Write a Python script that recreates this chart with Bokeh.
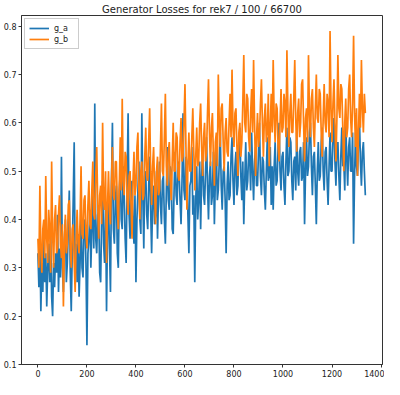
from bokeh.plotting import figure
from bokeh.models import Range1d, FixedTicker, Legend, LegendItem
from bokeh.embed import file_html
from bokeh.resources import INLINE

title_text = "Generator Losses for rek7 / 100 / 66700"
series_names = ["g_a", "g_b"]
step = 4

g_a = [
    0.33, 0.26, 0.36, 0.21, 0.31, 0.25, 0.36, 0.27, 0.33, 0.22, 0.30, 0.35, 0.27, 0.38, 0.24, 0.20, 0.31, 0.26, 0.33, 0.29, 0.41, 0.25, 0.34, 0.28,
    0.53, 0.30, 0.25, 0.36, 0.40, 0.27, 0.31, 0.38, 0.46, 0.29, 0.21, 0.33, 0.44, 0.56, 0.29, 0.35, 0.27, 0.37, 0.24, 0.31, 0.42, 0.30, 0.28, 0.39,
    0.40, 0.31, 0.14, 0.33, 0.36, 0.42, 0.30, 0.38, 0.45, 0.34, 0.64, 0.36, 0.33, 0.41, 0.42, 0.29, 0.27, 0.40, 0.48, 0.35, 0.31, 0.43, 0.21, 0.38,
    0.44, 0.34, 0.25, 0.47, 0.60, 0.38, 0.35, 0.44, 0.47, 0.33, 0.30, 0.46, 0.50, 0.40, 0.38, 0.51, 0.45, 0.36, 0.31, 0.48, 0.62, 0.41, 0.36, 0.47,
    0.48, 0.39, 0.35, 0.45, 0.27, 0.40, 0.46, 0.52, 0.40, 0.37, 0.62, 0.45, 0.34, 0.49, 0.50, 0.41, 0.38, 0.47, 0.53, 0.42, 0.33, 0.44, 0.47, 0.39,
    0.41, 0.50, 0.36, 0.45, 0.52, 0.43, 0.39, 0.48, 0.49, 0.40, 0.35, 0.46, 0.55, 0.44, 0.42, 0.51, 0.50, 0.38, 0.37, 0.47, 0.54, 0.45, 0.43, 0.52,
    0.50, 0.44, 0.39, 0.48, 0.62, 0.46, 0.44, 0.53, 0.52, 0.41, 0.33, 0.47, 0.48, 0.55, 0.41, 0.45, 0.27, 0.44, 0.51, 0.40, 0.44, 0.52, 0.38, 0.49,
    0.54, 0.45, 0.43, 0.50, 0.57, 0.47, 0.40, 0.49, 0.52, 0.43, 0.45, 0.54, 0.39, 0.48, 0.55, 0.44, 0.46, 0.52, 0.58, 0.47, 0.42, 0.50, 0.51, 0.44,
    0.33, 0.47, 0.52, 0.44, 0.45, 0.53, 0.57, 0.48, 0.43, 0.51, 0.54, 0.45, 0.47, 0.55, 0.59, 0.49, 0.44, 0.52, 0.39, 0.48, 0.56, 0.46, 0.48, 0.54,
    0.53, 0.46, 0.58, 0.50, 0.44, 0.52, 0.55, 0.47, 0.47, 0.54, 0.60, 0.49, 0.45, 0.53, 0.52, 0.46, 0.42, 0.50, 0.57, 0.48, 0.49, 0.55, 0.43, 0.51,
    0.42, 0.51, 0.56, 0.47, 0.48, 0.55, 0.60, 0.50, 0.46, 0.53, 0.54, 0.47, 0.43, 0.52, 0.59, 0.49, 0.50, 0.57, 0.56, 0.48, 0.44, 0.52, 0.53, 0.46,
    0.58, 0.50, 0.47, 0.54, 0.55, 0.48, 0.49, 0.56, 0.39, 0.50, 0.57, 0.49, 0.51, 0.58, 0.60, 0.51, 0.45, 0.53, 0.54, 0.47, 0.39, 0.50, 0.56, 0.48,
    0.49, 0.56, 0.59, 0.50, 0.46, 0.54, 0.55, 0.48, 0.43, 0.51, 0.58, 0.50, 0.50, 0.57, 0.61, 0.52, 0.47, 0.55, 0.56, 0.49, 0.44, 0.53, 0.59, 0.51,
    0.52, 0.46, 0.60, 0.53, 0.47, 0.55, 0.57, 0.50, 0.50, 0.58, 0.35, 0.49, 0.58, 0.51, 0.49, 0.56, 0.61, 0.52, 0.47, 0.54, 0.56, 0.50, 0.45,
]

g_b = [
    0.36, 0.30, 0.47, 0.34, 0.29, 0.38, 0.40, 0.32, 0.49, 0.36, 0.31, 0.42, 0.38, 0.29, 0.52, 0.37, 0.30, 0.40, 0.43, 0.33, 0.34, 0.41, 0.45, 0.35,
    0.32, 0.39, 0.22, 0.35, 0.41, 0.33, 0.35, 0.43, 0.44, 0.34, 0.30, 0.38, 0.39, 0.31, 0.25, 0.36, 0.42, 0.35, 0.33, 0.40, 0.51, 0.37, 0.36, 0.44,
    0.45, 0.37, 0.34, 0.43, 0.48, 0.39, 0.38, 0.46, 0.52, 0.41, 0.40, 0.49, 0.55, 0.43, 0.36, 0.45, 0.47, 0.39, 0.60, 0.44, 0.42, 0.50, 0.31, 0.43,
    0.50, 0.42, 0.39, 0.48, 0.55, 0.45, 0.44, 0.52, 0.52, 0.43, 0.38, 0.47, 0.57, 0.46, 0.65, 0.48, 0.45, 0.54, 0.53, 0.44, 0.41, 0.49, 0.50, 0.43,
    0.36, 0.48, 0.54, 0.45, 0.47, 0.55, 0.58, 0.46, 0.40, 0.50, 0.52, 0.44, 0.45, 0.53, 0.59, 0.49, 0.48, 0.56, 0.63, 0.50, 0.43, 0.51, 0.55, 0.47,
    0.39, 0.50, 0.53, 0.45, 0.46, 0.55, 0.64, 0.50, 0.49, 0.57, 0.66, 0.51, 0.47, 0.54, 0.56, 0.48, 0.44, 0.52, 0.60, 0.50, 0.50, 0.58, 0.57, 0.49,
    0.48, 0.56, 0.61, 0.52, 0.53, 0.60, 0.68, 0.55, 0.42, 0.51, 0.58, 0.50, 0.50, 0.57, 0.63, 0.54, 0.46, 0.53, 0.59, 0.51, 0.52, 0.60, 0.64, 0.55,
    0.49, 0.57, 0.60, 0.52, 0.54, 0.62, 0.69, 0.58, 0.51, 0.59, 0.62, 0.53, 0.47, 0.56, 0.58, 0.51, 0.70, 0.60, 0.55, 0.63, 0.64, 0.56, 0.50, 0.58,
    0.61, 0.54, 0.53, 0.60, 0.66, 0.57, 0.71, 0.59, 0.55, 0.62, 0.63, 0.55, 0.49, 0.58, 0.60, 0.53, 0.56, 0.64, 0.74, 0.60, 0.58, 0.66, 0.65, 0.57,
    0.54, 0.62, 0.67, 0.58, 0.73, 0.60, 0.49, 0.57, 0.62, 0.55, 0.57, 0.64, 0.69, 0.60, 0.53, 0.61, 0.64, 0.56, 0.58, 0.66, 0.51, 0.59, 0.66, 0.58,
    0.73, 0.61, 0.56, 0.64, 0.63, 0.55, 0.52, 0.60, 0.67, 0.58, 0.59, 0.66, 0.64, 0.57, 0.75, 0.63, 0.55, 0.62, 0.66, 0.58, 0.58, 0.65, 0.73, 0.61,
    0.54, 0.62, 0.65, 0.57, 0.60, 0.68, 0.69, 0.60, 0.52, 0.61, 0.63, 0.56, 0.74, 0.62, 0.57, 0.65, 0.67, 0.59, 0.55, 0.63, 0.70, 0.61, 0.60, 0.67,
    0.66, 0.58, 0.53, 0.61, 0.68, 0.60, 0.58, 0.66, 0.64, 0.57, 0.79, 0.63, 0.56, 0.64, 0.69, 0.60, 0.52, 0.61, 0.74, 0.63, 0.61, 0.68, 0.67, 0.59,
    0.50, 0.60, 0.65, 0.57, 0.59, 0.67, 0.70, 0.61, 0.57, 0.64, 0.78, 0.62, 0.55, 0.63, 0.49, 0.58, 0.66, 0.59, 0.73, 0.63, 0.58, 0.66, 0.62,
]

x_ticks = [0, 200, 400, 600, 800, 1000, 1200, 1400]
y_ticks = [0.1, 0.2, 0.3, 0.4, 0.5, 0.6, 0.7, 0.8]
colors = ["#1f77b4", "#ff7f0e"]

x_vals = [i * step for i in range(len(g_a))]
x_vals_b = [i * step for i in range(len(g_b))]

FONT = "DejaVu Sans"

p = figure(width=384, height=379, output_backend="svg", toolbar_location=None,
           x_range=Range1d(-67, 1406), y_range=Range1d(0.1, 0.822),
           title=title_text)
p.title.align = "center"
p.title.text_font = FONT
p.title.text_font_size = "10px"
p.title.text_font_style = "normal"
p.title.text_color = "#222222"
p.title.standoff = 2

p.min_border_left = 4
p.min_border_right = 2
p.min_border_top = 2
p.min_border_bottom = 2

p.xgrid.visible = False
p.ygrid.visible = False
p.outline_line_color = "#333333"
p.outline_line_width = 1
p.outline_line_alpha = 1

for ax in (p.xaxis[0], p.yaxis[0]):
    ax.axis_line_color = "#333333"
    ax.major_tick_line_color = "#333333"
    ax.minor_tick_line_color = None
    ax.major_tick_out = 3
    ax.major_tick_in = 0
    ax.major_label_text_font = FONT
    ax.major_label_text_font_size = "8px"
    ax.major_label_text_color = "#222222"
    ax.major_label_standoff = 2

p.xaxis[0].ticker = FixedTicker(ticks=x_ticks)
p.yaxis[0].ticker = FixedTicker(ticks=y_ticks)

r_a = p.line(x_vals, g_a, line_color=colors[0], line_width=1.7)
r_b = p.line(x_vals_b, g_b, line_color=colors[1], line_width=1.7)

legend = Legend(items=[LegendItem(label=series_names[0], renderers=[r_a]),
                       LegendItem(label=series_names[1], renderers=[r_b])],
                location="top_left")
legend.label_text_font = FONT
legend.label_text_font_size = "8px"
legend.label_text_color = "#222222"
legend.glyph_width = 20
legend.glyph_height = 10
legend.label_height = 10
legend.spacing = 1
legend.padding = 4
legend.margin = 3
legend.border_line_color = "#cccccc"
legend.border_line_alpha = 1
legend.background_fill_alpha = 0.8
p.add_layout(legend)

open("out.html", "w").write(file_html(p, INLINE))
